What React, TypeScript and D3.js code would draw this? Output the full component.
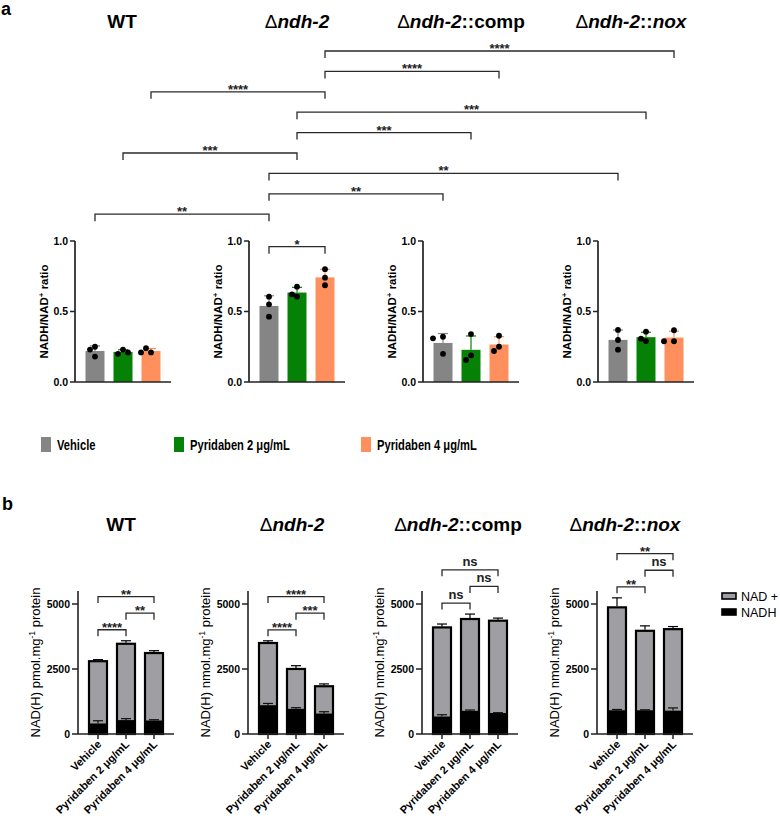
import React from "react";
import * as d3 from "d3";

// ---------- DATA ----------
const strains = ["WT", "Δndh-2", "Δndh-2::comp", "Δndh-2::nox"];
const treatments = ["Vehicle", "Pyridaben 2 μg/mL", "Pyridaben 4 μg/mL"];
const treatmentColors = ["#858585", "#058205", "#ff8f5c"];

// Panel a: NADH/NAD+ ratio, replicates per treatment
const ratioWT = [[0.25, 0.18, 0.23], [0.23, 0.2, 0.21], [0.21, 0.24, 0.21]];
const ratioNdh2 = [[0.605, 0.551, 0.463], [0.605, 0.676, 0.622], [0.8, 0.74, 0.686]];
const ratioComp = [[0.321, 0.31, 0.2], [0.34, 0.189, 0.156], [0.328, 0.25, 0.22]];
const ratioNox = [[0.369, 0.298, 0.229], [0.29, 0.357, 0.307], [0.289, 0.367, 0.289]];
const ratioData = [ratioWT, ratioNdh2, ratioComp, ratioNox];
const ratioTicks = [0, 0.5, 1.0];

// cross-strain comparisons, listed top to bottom: [strain, treatment]
const crossFrom = [[1, 2], [1, 2], [0, 2], [1, 1], [1, 1], [0, 1], [1, 0], [1, 0], [0, 0]];
const crossTo = [[3, 2], [2, 2], [1, 2], [3, 1], [2, 1], [1, 1], [3, 0], [2, 0], [1, 0]];
const crossLabels = ["****", "****", "****", "***", "***", "***", "**", "**", "**"];
// within-strain comparison in panel a
const innerStrain = 1;
const innerPair = [0, 2];
const innerLabel = "*";
const innerLevel = 0.96;

// Panel b: NAD(H) content (mean, SD)
const nadhMean = [[410, 536, 524], [1110, 972, 792], [677, 896, 808], [916, 916, 903]];
const nadhSD = [[100, 55, 25], [65, 40, 65], [65, 27, 12], [27, 15, 100]];
const nadPlusMean = [[2390, 2935, 2590], [2390, 1530, 1045], [3423, 3527, 3550], [3955, 3053, 3130]];
const nadPlusSD = [[60, 115, 90], [85, 125, 90], [130, 190, 100], [365, 190, 100]];
const nadTicks = [0, 2500, 5000];
const nadUnits = ["pmol", "nmol", "nmol", "nmol"];
const bPairs = [[0, 1], [1, 2], [0, 2]];
const bLabels = [["****", "**", "**"], ["****", "***", "****"], ["ns", "ns", "ns"], ["**", "ns", "**"]];
const stackLegend = ["NAD +", "NADH"];
const stackColors = ["#9e9ea3", "#000000"];

// ---------- LAYOUT ----------
const FONT = "'Liberation Sans', Arial, Helvetica, sans-serif";
const axisAX = [75, 249, 423, 598];
const axisBX = [78, 248, 422, 597];
const titleAX = [122, 297, 461, 631];
const titleBX = [121, 292, 458, 625];
const yA = d3.scaleLinear().domain([0, 1]).range([382, 241]);
const yB = d3.scaleLinear().domain([0, 5000]).range([734, 604]);
const yBMax = 5500;
const bandOf = (ax: number) => d3.scalePoint<string>().domain(treatments).range([ax + 20, ax + 76]);

function Title({ x, y, name, size }: { x: number; y: number; name: string; size: number }) {
  const parts: { t: string; w: any; s: any }[] = [];
  if (name.startsWith("Δ")) {
    parts.push({ t: "Δ", w: "normal", s: "normal" });
    parts.push({ t: "ndh-2", w: "bold", s: "italic" });
    const rest = name.slice(6);
    if (rest === "::comp") parts.push({ t: "::comp", w: "bold", s: "normal" });
    if (rest === "::nox") {
      parts.push({ t: "::", w: "bold", s: "normal" });
      parts.push({ t: "nox", w: "bold", s: "italic" });
    }
  } else parts.push({ t: name, w: "bold", s: "normal" });
  return (
    <text x={x} y={y} textAnchor="middle" fontSize={size} fontFamily={FONT}>
      {parts.map((p, i) => (
        <tspan key={i} fontWeight={p.w} fontStyle={p.s}>{p.t}</tspan>
      ))}
    </text>
  );
}

function dodge(vals: number[], cx: number, y: (v: number) => number, r: number, step: number) {
  const placed: { x: number; y: number }[] = [];
  return vals.map((v) => {
    const py = y(v);
    const cands = [0, -step, step, -2 * step, 2 * step];
    for (const o of cands) {
      if (placed.every((p) => Math.hypot(p.x - (cx + o), p.y - py) >= 2 * r - 0.3)) {
        placed.push({ x: cx + o, y: py });
        return { x: cx + o, y: py };
      }
    }
    placed.push({ x: cx, y: py });
    return { x: cx, y: py };
  });
}

function Bracket({ x1, x2, y, label, tick = 7 }: { x1: number; x2: number; y: number; label: string; tick?: number }) {
  const stars = /^\*+$/.test(label);
  return (
    <g>
      <path d={`M${x1},${y + tick}V${y}H${x2}V${y + tick}`} fill="none" stroke="#2a2a2a" strokeWidth={1.3} />
      <text x={(x1 + x2) / 2} y={stars ? y + 2 : y - 4} textAnchor="middle" fontSize={13} fontWeight="bold" fontFamily={FONT} fill="#222">
        {label}
      </text>
    </g>
  );
}

function PanelA() {
  return (
    <g>
      <text x={1} y={15} fontSize={18} fontWeight="bold" fontFamily={FONT}>a</text>
      {strains.map((s, i) => (
        <Title key={s} x={titleAX[i]} y={28} name={s} size={19} />
      ))}
      {crossLabels.map((lab, i) => {
        const x1 = bandOf(axisAX[crossFrom[i][0]])(treatments[crossFrom[i][1]])!;
        const x2 = bandOf(axisAX[crossTo[i][0]])(treatments[crossTo[i][1]])!;
        return <Bracket key={i} x1={x1} x2={x2} y={51 + i * 20.4} label={lab} />;
      })}
      {strains.map((s, si) => {
        const ax = axisAX[si];
        const xb = bandOf(ax);
        return (
          <g key={s}>
            {ratioData[si].map((vals, ti) => {
              const cx = xb(treatments[ti])!;
              const m = d3.mean(vals)!;
              const sd = d3.deviation(vals)!;
              const col = treatmentColors[ti];
              const pts = dodge(vals, cx, yA, 2.9, 5);
              return (
                <g key={ti}>
                  <rect x={cx - 9.5} y={yA(m)} width={19} height={yA(0) - yA(m)} fill={col} />
                  <line x1={cx} x2={cx} y1={yA(m)} y2={yA(m + sd)} stroke={col} strokeWidth={1.2} />
                  <line x1={cx - 5} x2={cx + 5} y1={yA(m + sd)} y2={yA(m + sd)} stroke={col} strokeWidth={1.2} />
                  {pts.map((p, k) => (
                    <circle key={k} cx={p.x} cy={p.y} r={2.9} fill="#000" />
                  ))}
                </g>
              );
            })}
            <line x1={ax} x2={ax} y1={yA(0)} y2={yA(1)} stroke="#222" strokeWidth={1.7} />
            <line x1={ax} x2={ax + 96} y1={yA(0)} y2={yA(0)} stroke="#222" strokeWidth={1.7} />
            {ratioTicks.map((t) => (
              <g key={t}>
                <line x1={ax - 5} x2={ax} y1={yA(t)} y2={yA(t)} stroke="#222" strokeWidth={1.5} />
                <text x={ax - 7} y={yA(t)} dy="0.35em" textAnchor="end" fontSize={10.5} fontWeight="bold" fontFamily={FONT}>
                  {d3.format(".1f")(t)}
                </text>
              </g>
            ))}
            <text transform={`translate(${ax - 27},${(yA(0) + yA(1)) / 2}) rotate(-90)`} textAnchor="middle" fontSize={11.5} fontWeight="bold" fontFamily={FONT}>
              NADH/NAD<tspan dy={-4} fontSize={8}>+</tspan><tspan dy={4}> ratio</tspan>
            </text>
            {si === innerStrain && (
              <Bracket x1={xb(treatments[innerPair[0]])!} x2={xb(treatments[innerPair[1]])!} y={yA(innerLevel)} label={innerLabel} />
            )}
          </g>
        );
      })}
      {/* legend */}
      {treatments.map((t, i) => {
        const lx = [41, 174, 361][i];
        return (
          <g key={t}>
            <rect x={lx} y={437} width={10} height={15} fill={treatmentColors[i]} />
            <text transform={`translate(${lx + 16},450) scale(0.72,1)`} fontSize={15.5} fontWeight="bold" fontFamily={FONT}>
              {t}
            </text>
          </g>
        );
      })}
    </g>
  );
}

function PanelB() {
  return (
    <g>
      <text x={2} y={510} fontSize={18} fontWeight="bold" fontFamily={FONT}>b</text>
      {strains.map((s, i) => (
        <Title key={s} x={titleBX[i]} y={531} name={s} size={19} />
      ))}
      {strains.map((s, si) => {
        const ax = axisBX[si];
        const xb = bandOf(ax);
        const totals = nadhMean[si].map((n, ti) => n + nadPlusMean[si][ti]);
        const maxTop = d3.max(totals.map((t, ti) => t + nadPlusSD[si][ti]))!;
        const base = yB(maxTop) - 11;
        return (
          <g key={s}>
            {treatments.map((t, ti) => {
              const cx = xb(t)!;
              const n = nadhMean[si][ti];
              const tot = totals[ti];
              return (
                <g key={t}>
                  <rect x={cx - 9} y={yB(tot)} width={18} height={yB(n) - yB(tot)} fill={stackColors[0]} />
                  <rect x={cx - 9} y={yB(n)} width={18} height={yB(0) - yB(n)} fill={stackColors[1]} />
                  <rect x={cx - 9} y={yB(tot)} width={18} height={yB(0) - yB(tot)} fill="none" stroke="#000" strokeWidth={2.2} />
                  <line x1={cx} x2={cx} y1={yB(tot) - 1} y2={yB(tot + nadPlusSD[si][ti])} stroke="#000" strokeWidth={1.2} />
                  <line x1={cx - 5} x2={cx + 5} y1={yB(tot + nadPlusSD[si][ti])} y2={yB(tot + nadPlusSD[si][ti])} stroke="#000" strokeWidth={1.2} />
                  <line x1={cx} x2={cx} y1={yB(n)} y2={yB(n + nadhSD[si][ti])} stroke="#111" strokeWidth={1.2} />
                  <line x1={cx - 5} x2={cx + 5} y1={yB(n + nadhSD[si][ti])} y2={yB(n + nadhSD[si][ti])} stroke="#111" strokeWidth={1.2} />
                  <line x1={cx} x2={cx} y1={yB(0)} y2={yB(0) + 5} stroke="#222" strokeWidth={1.5} />
                  <text transform={`translate(${cx + 4},${yB(0) + 11}) rotate(-45)`} textAnchor="end" fontSize={11} fontWeight="bold" fontFamily={FONT}>
                    {t}
                  </text>
                </g>
              );
            })}
            <line x1={ax} x2={ax} y1={yB(0)} y2={yB(yBMax)} stroke="#222" strokeWidth={1.6} />
            <line x1={ax} x2={ax + 96} y1={yB(0)} y2={yB(0)} stroke="#222" strokeWidth={1.6} />
            {nadTicks.map((tk) => (
              <g key={tk}>
                <line x1={ax - 6} x2={ax} y1={yB(tk)} y2={yB(tk)} stroke="#222" strokeWidth={1.5} />
                <text x={ax - 8} y={yB(tk)} dy="0.35em" textAnchor="end" fontSize={10.5} fontWeight="bold" fontFamily={FONT}>
                  {tk}
                </text>
              </g>
            ))}
            <text transform={`translate(${ax - 38},${(yB(0) + yB(yBMax)) / 2}) rotate(-90)`} textAnchor="middle" fontSize={13} fontFamily={FONT}>
              NAD(H) {nadUnits[si]}.mg<tspan dy={-5} fontSize={8.5}>-1</tspan><tspan dy={5}> protein</tspan>
            </text>
            {bPairs.map((p, li) => (
              <Bracket key={li} x1={xb(treatments[p[0]])!} x2={xb(treatments[p[1]])!} y={base - li * 16.6} label={bLabels[si][li]} tick={6.5} />
            ))}
          </g>
        );
      })}
      {stackLegend.map((l, i) => (
        <g key={l}>
          <rect x={722} y={593 + i * 16} width={14} height={6} fill={stackColors[i]} stroke="#000" strokeWidth={1.6} />
          <text x={741} y={600.5 + i * 16} fontSize={12.5} fontFamily={FONT}>{l}</text>
        </g>
      ))}
    </g>
  );
}

export default function App() {
  return (
    <svg width={780} height={818} style={{ position: "absolute", left: 0, top: 0, background: "#fff" }}>
      <rect width={780} height={818} fill="#fff" />
      <PanelA />
      <PanelB />
    </svg>
  );
}
